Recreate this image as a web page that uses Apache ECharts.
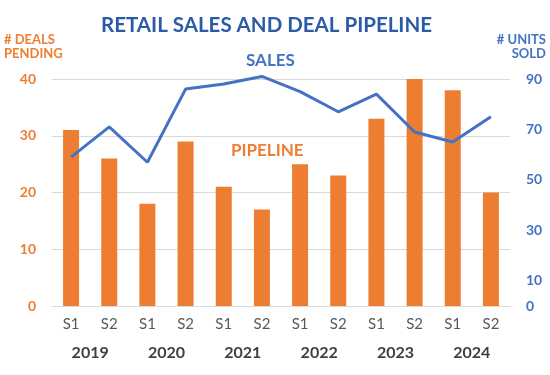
<!DOCTYPE html>
<html>
<head>
<meta charset="utf-8">
<script src="https://cdn.jsdelivr.net/npm/echarts@6/dist/echarts.min.js"></script>
<style>
  html, body { margin: 0; padding: 0; background: #fff; }
  #chart { width: 550px; height: 375px; }
</style>
</head>
<body>
<div id="chart"></div>
<script>
const periods = ['S1', 'S2', 'S1', 'S2', 'S1', 'S2', 'S1', 'S2', 'S1', 'S2', 'S1', 'S2']
const years = ['2019', '2020', '2021', '2022', '2023', '2024']
const dealsPending = [31, 26, 18, 29, 21, 17, 25, 23, 33, 40, 38, 20]
const unitsSold = [59, 71, 57, 86, 88, 91, 85, 77, 84, 69, 65, 75]
const rightTickLabels = [0, 10, 30, 50, 70, 90]

const ORANGE = '#ED7D31'
const BLUE = '#4472C4'
const FONT = 'Lato, "Open Sans", sans-serif'

const chart = echarts.init(document.getElementById('chart'))

const option = {
  animation: false,
  textStyle: { fontFamily: FONT },
  title: {
    text: 'RETAIL SALES AND DEAL PIPELINE',
    left: 96,
    top: 10,
    textStyle: { color: '#2B5AA6', fontSize: 20.5, fontWeight: 'bold', fontFamily: FONT }
  },
  graphic: [
    {
      type: 'text', x: 4, y: 33,
      style: { text: '# DEALS\nPENDING', fill: ORANGE, font: 'bold 13px ' + FONT, lineHeight: 14 }
    },
    {
      type: 'text', x: 546, y: 33,
      style: { text: '# UNITS\nSOLD', fill: BLUE, font: 'bold 13px ' + FONT, lineHeight: 14, align: 'right' }
    },
    {
      type: 'text', x: 246, y: 52,
      style: { text: 'SALES', fill: BLUE, font: 'bold 17px ' + FONT }
    },
    {
      type: 'text', x: 231, y: 142,
      style: { text: 'PIPELINE', fill: ORANGE, font: 'bold 17px ' + FONT }
    }
  ],
  grid: { left: 52, right: 40, top: 79, bottom: 69, containLabel: false },
  xAxis: [
    {
      type: 'category',
      data: periods,
      axisLine: { lineStyle: { color: '#d9d9d9' } },
      axisTick: { show: false },
      axisLabel: { color: '#595959', fontSize: 15, margin: 11 }
    },
    {
      type: 'category',
      data: years,
      position: 'bottom',
      offset: 28,
      axisLine: { show: false },
      axisTick: { show: false },
      axisLabel: { color: '#404040', fontSize: 16, fontWeight: 'bold', margin: 11 }
    }
  ],
  yAxis: [
    {
      type: 'value',
      min: 0,
      max: 40,
      interval: 10,
      axisLine: { show: false },
      axisTick: { show: false },
      splitLine: { lineStyle: { color: '#d9d9d9', width: 1 } },
      axisLabel: { color: ORANGE, fontSize: 14, fontWeight: 'bold', margin: 16 }
    },
    {
      type: 'value',
      min: 0,
      max: 90,
      interval: 10,
      position: 'right',
      axisLine: { show: false },
      axisTick: { show: false },
      splitLine: { show: false },
      axisLabel: {
        color: BLUE, fontSize: 14, fontWeight: 'bold', margin: 16,
        formatter: (v) => rightTickLabels.includes(v) ? String(v) : ''
      }
    }
  ],
  series: [
    {
      name: 'Pipeline',
      type: 'bar',
      xAxisIndex: 0,
      yAxisIndex: 0,
      data: dealsPending,
      barWidth: 16,
      itemStyle: { color: ORANGE }
    },
    {
      name: 'Sales',
      type: 'line',
      xAxisIndex: 0,
      yAxisIndex: 1,
      data: unitsSold,
      clip: false,
      showSymbol: false,
      lineStyle: { color: BLUE, width: 3 },
      itemStyle: { color: BLUE }
    }
  ]
}

chart.setOption(option)
</script>
</body>
</html>
